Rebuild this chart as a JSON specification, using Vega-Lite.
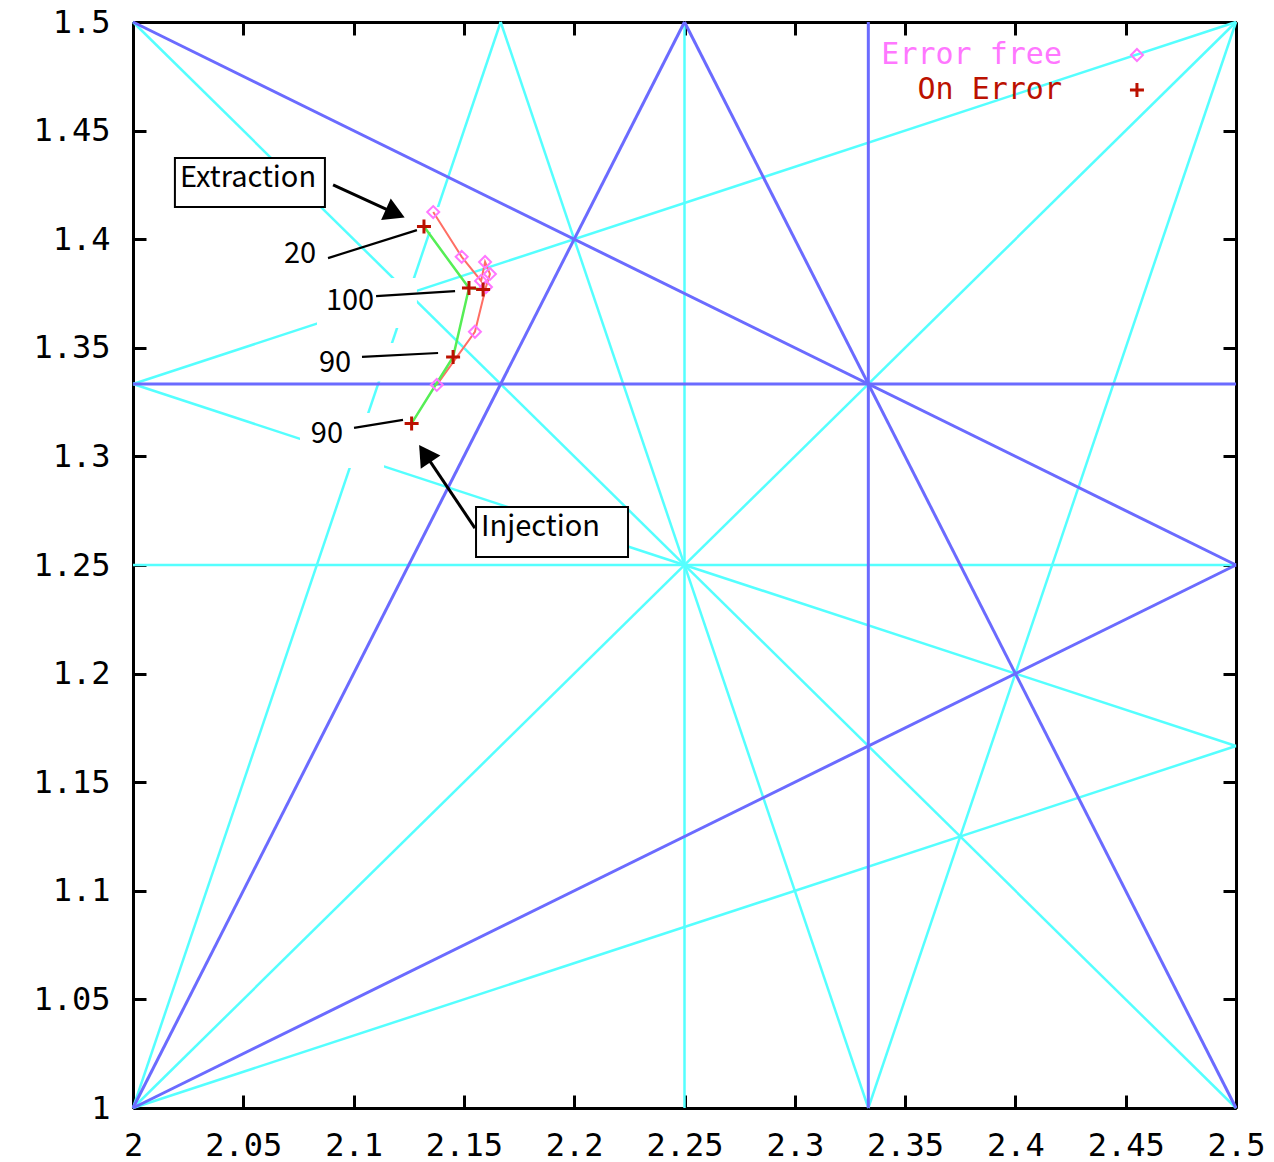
{
  "$schema": "https://vega.github.io/schema/vega-lite/v6.json",
  "width": 1103,
  "height": 1086,
  "autosize": "none",
  "padding": {"left": 133, "top": 22, "right": 38, "bottom": 54},
  "background": "white",
  "config": {
    "view": {"stroke": null},
    "axis": {
      "domainColor": "black", "domainWidth": 3, "tickColor": "black", "tickWidth": 3, "tickSize": -13,
      "labelFont": "DejaVu Sans Mono", "labelFontSize": 32, "labelColor": "black",
      "grid": false, "title": null, "labelFlush": false, "labelOverlap": false, "format": "~g"
    }
  },
  "encoding": {
    "x": {"field": "x", "type": "quantitative", "scale": {"domain": [2, 2.5], "nice": false, "zero": false}, "axis": null},
    "y": {"field": "y", "type": "quantitative", "scale": {"domain": [1, 1.5], "nice": false, "zero": false}, "axis": null}
  },
  "resolve": {"axis": {"x": "independent", "y": "independent"}},
  "layer": [
    {
      "data": {"values": [
        {"x": 2.25, "y": 1, "x2": 2.25, "y2": 1.5},
        {"x": 2, "y": 1.25, "x2": 2.5, "y2": 1.25},
        {"x": 2, "y": 1.33333, "x2": 2.5, "y2": 1.16667},
        {"x": 2.33333, "y": 1, "x2": 2.16667, "y2": 1.5},
        {"x": 2, "y": 1, "x2": 2.5, "y2": 1.16667},
        {"x": 2, "y": 1.33333, "x2": 2.5, "y2": 1.5},
        {"x": 2, "y": 1, "x2": 2.16667, "y2": 1.5},
        {"x": 2.33333, "y": 1, "x2": 2.5, "y2": 1.5},
        {"x": 2, "y": 1.5, "x2": 2.5, "y2": 1},
        {"x": 2, "y": 1, "x2": 2.5, "y2": 1.5}
      ]},
      "mark": {"type": "rule", "color": "#55ffff", "strokeWidth": 2.5},
      "encoding": {
        "x": {"field": "x", "type": "quantitative", "scale": {"domain": [2, 2.5], "nice": false, "zero": false},
              "axis": {"orient": "bottom", "values": [2, 2.05, 2.1, 2.15, 2.2, 2.25, 2.3, 2.35, 2.4, 2.45, 2.5], "labelPadding": 35}},
        "y": {"field": "y", "type": "quantitative", "scale": {"domain": [1, 1.5], "nice": false, "zero": false},
              "axis": {"orient": "left", "values": [1, 1.05, 1.1, 1.15, 1.2, 1.25, 1.3, 1.35, 1.4, 1.45, 1.5], "labelPadding": 36}},
        "x2": {"field": "x2"},
        "y2": {"field": "y2"}
      }
    },
    {
      "data": {"values": [
        {"x": 2.33333, "y": 1, "x2": 2.33333, "y2": 1.5},
        {"x": 2, "y": 1.33333, "x2": 2.5, "y2": 1.33333},
        {"x": 2, "y": 1.5, "x2": 2.5, "y2": 1.25},
        {"x": 2.25, "y": 1.5, "x2": 2.5, "y2": 1},
        {"x": 2, "y": 1, "x2": 2.25, "y2": 1.5},
        {"x": 2, "y": 1, "x2": 2.5, "y2": 1.25}
      ]},
      "mark": {"type": "rule", "color": "#6b6bff", "strokeWidth": 3},
      "encoding": {
        "x": {"field": "x", "type": "quantitative", "scale": {"domain": [2, 2.5], "nice": false, "zero": false},
              "axis": {"orient": "top", "values": [2, 2.05, 2.1, 2.15, 2.2, 2.25, 2.3, 2.35, 2.4, 2.45, 2.5], "labels": false}},
        "y": {"field": "y", "type": "quantitative", "scale": {"domain": [1, 1.5], "nice": false, "zero": false},
              "axis": {"orient": "right", "values": [1, 1.05, 1.1, 1.15, 1.2, 1.25, 1.3, 1.35, 1.4, 1.45, 1.5], "labels": false}},
        "x2": {"field": "x2"},
        "y2": {"field": "y2"}
      }
    },
    {
      "data": {"values": [
        {"x": 2.0834, "y": 1.3821, "x2": 2.1287, "y2": 1.3591},
        {"x": 2.0802, "y": 1.3522, "x2": 2.1193, "y2": 1.3345},
        {"x": 2.0757, "y": 1.3200, "x2": 2.1138, "y2": 1.2947},
        {"x": 2.1328, "y": 1.4148, "x2": 2.1419, "y2": 1.4033}
      ]},
      "mark": {"type": "rect", "fill": "white"},
      "encoding": {"x2": {"field": "x2"}, "y2": {"field": "y2"}}
    },
    {
      "data": {"values": [
        {"x": 2.0884, "y": 1.3913, "x2": 2.1287, "y2": 1.4042},
        {"x": 2.1102, "y": 1.3738, "x2": 2.1460, "y2": 1.3761},
        {"x": 2.1038, "y": 1.3458, "x2": 2.1383, "y2": 1.3476},
        {"x": 2.1002, "y": 1.3131, "x2": 2.1224, "y2": 1.3168}
      ]},
      "mark": {"type": "rule", "color": "black", "strokeWidth": 2.2},
      "encoding": {"x2": {"field": "x2"}, "y2": {"field": "y2"}}
    },
    {
      "data": {"values": [
        {"x": 2.0907, "y": 1.4250, "x2": 2.1189, "y2": 1.4119},
        {"x": 2.1550, "y": 1.2670, "x2": 2.1323, "y2": 1.3013}
      ]},
      "mark": {"type": "rule", "color": "black", "strokeWidth": 3},
      "encoding": {"x2": {"field": "x2"}, "y2": {"field": "y2"}}
    },
    {
      "data": {"values": [
        {"i": 1, "x": 2.1361, "y": 1.4125},
        {"i": 2, "x": 2.1490, "y": 1.3919},
        {"i": 3, "x": 2.1578, "y": 1.3808},
        {"i": 4, "x": 2.1596, "y": 1.3895},
        {"i": 5, "x": 2.1618, "y": 1.3840},
        {"i": 6, "x": 2.1600, "y": 1.3780},
        {"i": 7, "x": 2.1550, "y": 1.3574},
        {"i": 8, "x": 2.1377, "y": 1.3329}
      ]},
      "mark": {"type": "line", "color": "#ff6e64", "strokeWidth": 2},
      "encoding": {"order": {"field": "i", "type": "quantitative"}}
    },
    {
      "data": {"values": [
        {"i": 1, "x": 2.1263, "y": 1.3152},
        {"i": 2, "x": 2.1451, "y": 1.3458},
        {"i": 3, "x": 2.1523, "y": 1.3775},
        {"i": 4, "x": 2.1587, "y": 1.3768},
        {"i": 5, "x": 2.1523, "y": 1.3775},
        {"i": 6, "x": 2.1319, "y": 1.4058}
      ]},
      "mark": {"type": "line", "color": "#55ee55", "strokeWidth": 2.5},
      "encoding": {"order": {"field": "i", "type": "quantitative"}}
    },
    {
      "data": {"values": [
        {"x": 2.1361, "y": 1.4125},
        {"x": 2.1490, "y": 1.3919},
        {"x": 2.1578, "y": 1.3808},
        {"x": 2.1596, "y": 1.3895},
        {"x": 2.1618, "y": 1.3840},
        {"x": 2.1600, "y": 1.3780},
        {"x": 2.1550, "y": 1.3574},
        {"x": 2.1377, "y": 1.3329},
        {"x": 2.4551, "y": 1.4848}
      ]},
      "mark": {"type": "point", "shape": "diamond", "size": 144, "filled": false, "color": "#ff77ff", "strokeWidth": 2, "opacity": 1}
    },
    {
      "data": {"values": [
        {"x": 2.1263, "y": 1.3152},
        {"x": 2.1451, "y": 1.3458},
        {"x": 2.1523, "y": 1.3775},
        {"x": 2.1587, "y": 1.3768},
        {"x": 2.1319, "y": 1.4058},
        {"x": 2.4551, "y": 1.4687}
      ]},
      "mark": {"type": "point", "shape": "M-1,0L1,0M0,-1L0,1", "size": 196, "filled": false, "color": "#bb1100", "strokeWidth": 3, "opacity": 1}
    },
    {
      "data": {"values": [
        {"x": 2.0190, "y": 1.4374, "x2": 2.0870, "y2": 1.4148},
        {"x": 2.1555, "y": 1.2767, "x2": 2.2244, "y2": 1.2537}
      ]},
      "mark": {"type": "rect", "fill": "white", "stroke": "black", "strokeWidth": 2},
      "encoding": {"x2": {"field": "x2"}, "y2": {"field": "y2"}}
    },
    {
      "data": {"values": [
        {"x": 2.0213, "y": 1.4282, "label": "Extraction"},
        {"x": 2.1578, "y": 1.2675, "label": "Injection"}
      ]},
      "mark": {"type": "text", "align": "left", "baseline": "middle", "font": "Noto Sans CJK JP", "fontSize": 29, "color": "black"},
      "encoding": {"text": {"field": "label"}}
    },
    {
      "data": {"values": [
        {"x": 2.0757, "y": 1.3932, "label": "20"},
        {"x": 2.0984, "y": 1.3715, "label": "100"},
        {"x": 2.0916, "y": 1.3430, "label": "90"},
        {"x": 2.0879, "y": 1.3103, "label": "90"}
      ]},
      "mark": {"type": "text", "align": "center", "baseline": "middle", "font": "Noto Sans CJK JP", "fontSize": 29, "color": "black"},
      "encoding": {"text": {"field": "label"}}
    },
    {
      "data": {"values": [{"x": 2.1189, "y": 1.4119}]},
      "mark": {"type": "point", "shape": "triangle-up", "size": 560, "filled": true, "color": "black", "opacity": 1, "angle": 114}
    },
    {
      "data": {"values": [{"x": 2.1323, "y": 1.3013}]},
      "mark": {"type": "point", "shape": "triangle-up", "size": 560, "filled": true, "color": "black", "opacity": 1, "angle": 326}
    },
    {
      "data": {"values": [
        {"x": 2.4211, "y": 1.4848, "label": "Error free"},
        {"x": 2.4211, "y": 1.4687, "label": "On Error"}
      ]},
      "mark": {"type": "text", "align": "right", "baseline": "middle", "font": "DejaVu Sans Mono", "fontSize": 30},
      "encoding": {
        "text": {"field": "label"},
        "color": {"field": "label", "type": "nominal", "scale": {"domain": ["Error free", "On Error"], "range": ["#ff77ff", "#bb1100"]}, "legend": null}
      }
    }
  ]
}
